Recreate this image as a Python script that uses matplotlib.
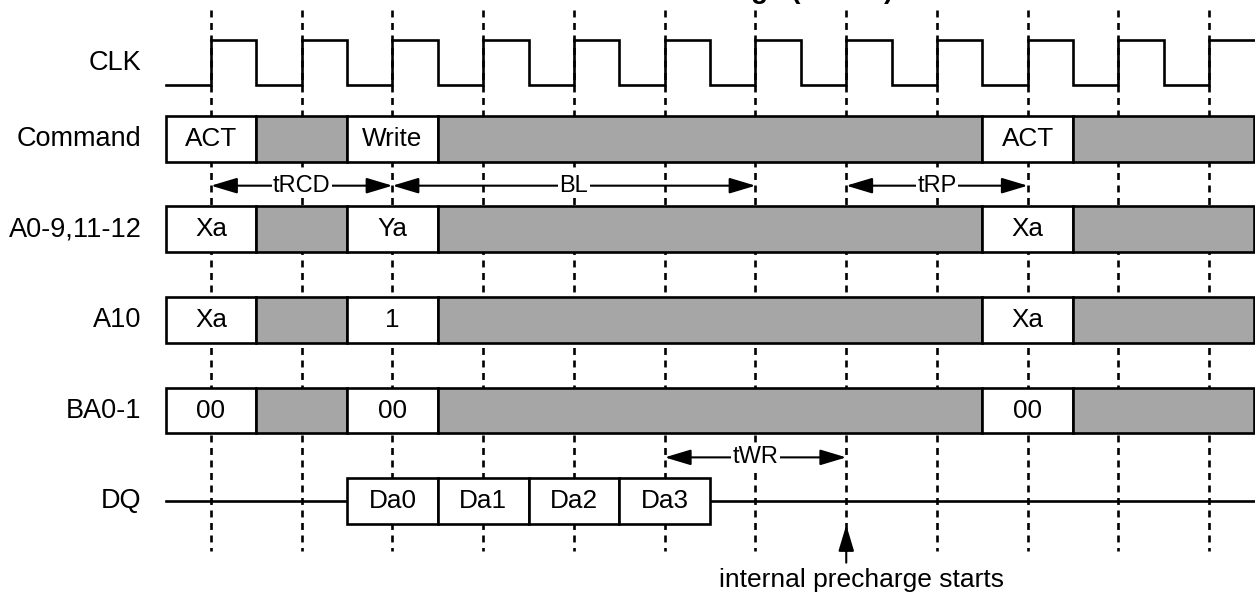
import matplotlib
matplotlib.use("Agg")
import matplotlib.pyplot as plt
from matplotlib.patches import Rectangle

plt.rcParams['font.family'] = ['Liberation Sans', 'DejaVu Sans']
plt.rcParams['lines.scale_dashes'] = False

# ---- data (time in clock cycles, 0 = first rising edge) ----
title = "Write with Auto Precharge (BL = 4)"
row_names = ['CLK', 'Command', 'A0-9,11-12', 'A10', 'BA0-1', 'DQ']
n_edges = 12                     # rising edges drawn as dashed guides
clk_start, clk_end = -0.5, 11.5

seg_edges = [-0.5, 0.5, 1.5, 2.5, 8.5, 9.5, 11.49]
cmd_vals = ['ACT', None, 'Write', None, 'ACT', None]
addr_vals = ['Xa', None, 'Ya', None, 'Xa', None]
a10_vals = ['Xa', None, '1', None, 'Xa', None]
ba_vals = ['00', None, '00', None, '00', None]

dq_vals = ['Da0', 'Da1', 'Da2', 'Da3']
dq_start = 1.5

# name, from, to, which gap
timings = [('tRCD', 0, 2, 'top'), ('BL', 2, 6, 'top'), ('tRP', 7, 9, 'top'),
           ('tWR', 5, 7, 'bottom')]
note_text = 'internal precharge starts'
note_at = 7

# ---- layout ----
px = 90.75                      # pixels per clock period
W, H = 1255, 592
x0 = 211                        # pixel of edge 0
row_y = [0.69, 1.53, 2.525, 3.525, 4.525, 5.52]
half = 0.25
timing_y = {'top': 2.046, 'bottom': 5.04}
gray = '#a6a6a6'
lw = 1.9

fig = plt.figure(figsize=(W / 100, H / 100), dpi=100)
ax = fig.add_axes([0, 0, 1, 1])
ax.set_xlim(-x0 / px, (W - x0) / px)
ax.set_ylim(H / px, 0)
ax.axis('off')

# dashed guides at rising edges
for k in range(n_edges):
    ax.plot([k, k], [0.11, 6.07], color='black', lw=lw,
            linestyle=(0, (5, 4)), zorder=1)

# clock waveform: half-period steps, low first
hi, lo = row_y[0] - half, row_y[0] + half
n_half = int(round((clk_end - clk_start) / 0.5))
xs, ys = [], []
for i in range(n_half):
    a = clk_start + 0.5 * i
    level = hi if i % 2 else lo
    xs += [a, a + 0.5]
    ys += [level, level]
ax.plot(xs, ys, color='black', lw=lw, zorder=3, solid_joinstyle='miter')

# bus rows
def bus_row(y, vals):
    for i, v in enumerate(vals):
        a, b = seg_edges[i], seg_edges[i + 1]
        ax.add_patch(Rectangle((a, y - half), b - a, 2 * half,
                               facecolor='white' if v else gray,
                               edgecolor='black', lw=lw, zorder=3))
        if v:
            ax.text((a + b) / 2, y, v, ha='center', va='center',
                    fontsize=18.8, zorder=4)

bus_row(row_y[1], cmd_vals)
bus_row(row_y[2], addr_vals)
bus_row(row_y[3], a10_vals)
bus_row(row_y[4], ba_vals)

# DQ row
y = row_y[5]
dq_end = dq_start + len(dq_vals)
ax.plot([clk_start, dq_start], [y, y], color='black', lw=lw, zorder=3)
ax.plot([dq_end, clk_end], [y, y], color='black', lw=lw, zorder=3)
for i, v in enumerate(dq_vals):
    a = dq_start + i
    ax.add_patch(Rectangle((a, y - half), 1, 2 * half, facecolor='white',
                           edgecolor='black', lw=lw, zorder=3))
    ax.text(a + 0.5, y, v, ha='center', va='center', fontsize=18.8, zorder=4)

# row labels
for name, yy in zip(row_names, row_y):
    ax.text(-0.765, yy, name, ha='right', va='center', fontsize=19.5)

# timing arrows
for name, a, b, where in timings:
    yy = timing_y[where]
    ax.annotate('', xy=(b, yy), xytext=(a, yy),
                arrowprops=dict(arrowstyle='<|-|>,head_length=1.0,head_width=0.3',
                                mutation_scale=16, color='black', lw=1.5,
                                shrinkA=0, shrinkB=0), zorder=5)
    ax.text((a + b) / 2, yy, name, ha='center', va='center', fontsize=17,
            zorder=6, bbox=dict(facecolor='white', edgecolor='none', pad=1))

# precharge note
ax.annotate('', xy=(note_at, 5.785), xytext=(note_at, 6.2),
            arrowprops=dict(arrowstyle='-|>,head_length=1.0,head_width=0.3',
                            mutation_scale=16, color='black', lw=1.5,
                            shrinkA=0, shrinkB=0), zorder=5)
ax.text(note_at + 0.17, 6.468, note_text, ha='center', va='baseline',
        fontsize=19)

# title, almost entirely above the canvas as in the source
ax.text((893 - x0) / px, -0.022, title, ha='right', va='baseline',
        fontsize=20, fontweight='bold')

fig.savefig('out.png', dpi=100)
